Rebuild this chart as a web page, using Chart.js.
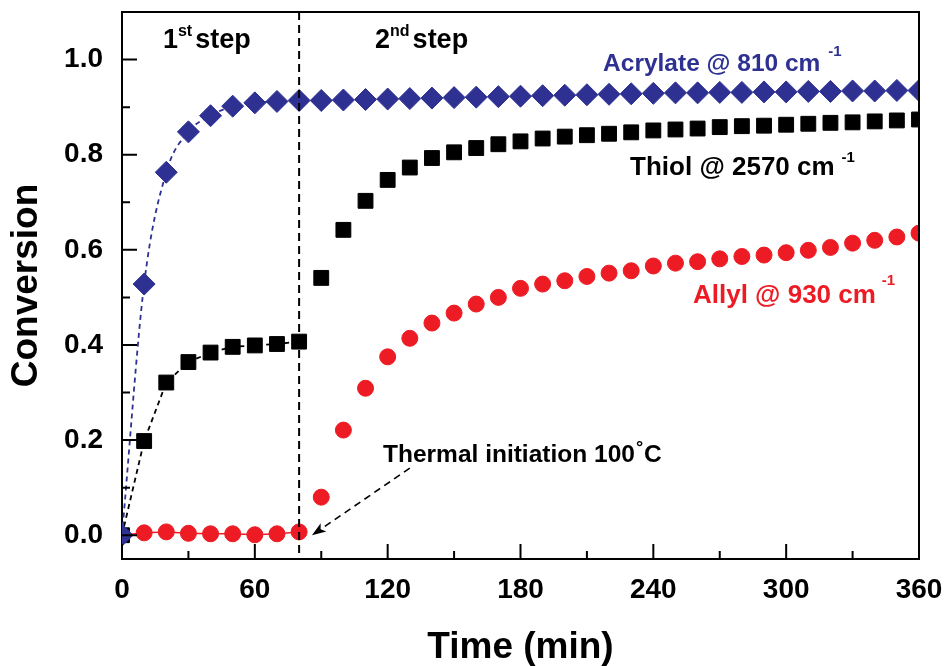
<!DOCTYPE html>
<html>
<head>
<meta charset="utf-8">
<title>Conversion vs time</title>
<script src="https://cdn.jsdelivr.net/npm/chart.js@4.4.1/dist/chart.umd.min.js"></script>
<style>
  html, body { margin: 0; padding: 0; background: #fff; }
  #wrap { width: 947px; height: 666px; }
</style>
</head>
<body>
<div id="wrap"><canvas id="chart" width="947" height="666"></canvas></div>
<script>
// --- Data (conversion vs time, 10 min steps) ---
const timeMin = [0, 10, 20, 30, 40, 50, 60, 70, 80, 90, 100, 110, 120, 130, 140, 150, 160, 170, 180,
                 190, 200, 210, 220, 230, 240, 250, 260, 270, 280, 290, 300, 310, 320, 330, 340, 350, 360];
const acrylate = [0, 0.528, 0.763, 0.848, 0.882, 0.902, 0.909, 0.912, 0.914, 0.914, 0.915, 0.916, 0.917,
                  0.918, 0.919, 0.920, 0.921, 0.922, 0.923, 0.924, 0.925, 0.926, 0.927, 0.928, 0.929,
                  0.930, 0.930, 0.931, 0.931, 0.932, 0.932, 0.933, 0.933, 0.934, 0.934, 0.935, 0.935];
const thiol = [0, 0.198, 0.321, 0.364, 0.384, 0.396, 0.399, 0.402, 0.407, 0.541, 0.642, 0.703, 0.747,
               0.773, 0.793, 0.805, 0.814, 0.822, 0.828, 0.834, 0.838, 0.841, 0.844, 0.847, 0.851,
               0.853, 0.855, 0.858, 0.860, 0.861, 0.863, 0.865, 0.867, 0.868, 0.870, 0.872, 0.874];
const allyl = [0, 0.005, 0.007, 0.004, 0.003, 0.003, 0.001, 0.003, 0.007, 0.080, 0.221, 0.309, 0.375,
               0.414, 0.446, 0.467, 0.486, 0.500, 0.519, 0.528, 0.535, 0.544, 0.551, 0.556, 0.566,
               0.572, 0.575, 0.581, 0.586, 0.589, 0.594, 0.599, 0.605, 0.614, 0.620, 0.627, 0.635];
const stepTime = 80;                       // end of 1st step, thermal initiation
const xTicks = [0, 60, 120, 180, 240, 300, 360];
const yTicks = [0, 0.2, 0.4, 0.6, 0.8, 1.0];

const BLUE = '#2E3192', RED = '#ED1C24', BLACK = '#000000';
const FONT = '"Liberation Sans", Arial, Helvetica, sans-serif';
Chart.defaults.font.family = FONT;

const pts = (ys, n) => timeMin.slice(0, n || timeMin.length).map((t, i) => ({ x: t, y: ys[i] }));
const nStep1 = timeMin.filter(t => t <= stepTime).length;

// text labels placed in data units: [x, y, color, parts]
const notes = [
  { x: 18.5, y: 1.025, color: BLACK, parts: [['1', 27], ['st', 16, 0, -12], ['step', 27, 3]] },
  { x: 114.3, y: 1.025, color: BLACK, parts: [['2', 27], ['nd', 16, 0, -12], ['step', 27, 3]] },
  { x: 217.3, y: 0.977, color: BLUE, parts: [['Acrylate @ 810 cm', 24.5], ['-1', 15, 8, -15]] },
  { x: 229.5, y: 0.758, color: BLACK, parts: [['Thiol @ 2570 cm', 26], ['-1', 15, 7, -13]] },
  { x: 257.9, y: 0.488, color: RED, parts: [['Allyl @ 930 cm', 26], ['-1', 15, 6, -18]] },
  { x: 117.9, y: 0.154, color: BLACK, parts: [['Thermal initiation 100', 24.5], ['\u00B0', 18, 1, -9], ['C', 24.5, 1]] }
];
const arrow = { from: [130, 0.141], to: [85.8, 0.0] };

function drawParts(ctx, x0, y0, parts, color) {
  let cx = x0;
  ctx.fillStyle = color;
  ctx.textBaseline = 'alphabetic';
  ctx.textAlign = 'left';
  parts.forEach(([text, size, dx, dy]) => {
    ctx.font = `bold ${size}px ${FONT}`;
    cx += dx || 0;
    ctx.fillText(text, cx, y0 + (dy || 0));
    cx += ctx.measureText(text).width;
  });
}

const decor = {
  id: 'decor',
  afterDatasetsDraw(chart) {
    const { ctx, chartArea: a, scales: { x, y } } = chart;
    ctx.save();
    ctx.strokeStyle = BLACK;
    ctx.lineWidth = 2;
    // frame top + right
    ctx.beginPath();
    ctx.moveTo(a.left, a.top); ctx.lineTo(a.right, a.top); ctx.lineTo(a.right, a.bottom);
    ctx.stroke();
    // inward ticks, major + minor
    ctx.beginPath();
    xTicks.forEach((v, i) => {
      const px = x.getPixelForValue(v);
      ctx.moveTo(px, a.bottom); ctx.lineTo(px, a.bottom - 15);
      if (i < xTicks.length - 1) {
        const mx = x.getPixelForValue((v + xTicks[i + 1]) / 2);
        ctx.moveTo(mx, a.bottom); ctx.lineTo(mx, a.bottom - 8);
      }
    });
    yTicks.forEach((v, i) => {
      const py = y.getPixelForValue(v);
      ctx.moveTo(a.left, py); ctx.lineTo(a.left + 15, py);
      if (i < yTicks.length - 1) {
        const my = y.getPixelForValue((v + yTicks[i + 1]) / 2);
        ctx.moveTo(a.left, my); ctx.lineTo(a.left + 8, my);
      }
    });
    ctx.stroke();

    // step divider
    const sx = x.getPixelForValue(stepTime);
    ctx.setLineDash([8, 5]);
    ctx.beginPath();
    ctx.moveTo(sx, a.top); ctx.lineTo(sx, a.bottom);
    ctx.stroke();

    // arrow to thermal initiation point
    const x1 = x.getPixelForValue(arrow.from[0]), y1 = y.getPixelForValue(arrow.from[1]);
    const x2 = x.getPixelForValue(arrow.to[0]), y2 = y.getPixelForValue(arrow.to[1]);
    const ang = Math.atan2(y2 - y1, x2 - x1);
    const hl = 14, hw = 5;
    ctx.lineWidth = 1.6;
    ctx.setLineDash([7, 5]);
    ctx.beginPath();
    ctx.moveTo(x1, y1);
    ctx.lineTo(x2 - hl * Math.cos(ang), y2 - hl * Math.sin(ang));
    ctx.stroke();
    ctx.setLineDash([]);
    ctx.fillStyle = BLACK;
    ctx.beginPath();
    ctx.moveTo(x2, y2);
    ctx.lineTo(x2 - hl * Math.cos(ang) + hw * Math.sin(ang), y2 - hl * Math.sin(ang) - hw * Math.cos(ang));
    ctx.lineTo(x2 - hl * 0.75 * Math.cos(ang), y2 - hl * 0.75 * Math.sin(ang));
    ctx.lineTo(x2 - hl * Math.cos(ang) - hw * Math.sin(ang), y2 - hl * Math.sin(ang) + hw * Math.cos(ang));
    ctx.closePath();
    ctx.fill();

    // labels
    notes.forEach(n => drawParts(ctx, x.getPixelForValue(n.x), y.getPixelForValue(n.y), n.parts, n.color));
    ctx.restore();
  }
};

new Chart(document.getElementById('chart'), {
  type: 'scatter',
  data: {
    datasets: [
      { label: 'Acrylate', data: pts(acrylate), showLine: false, pointStyle: 'rectRot', pointRadius: 11,
        pointBackgroundColor: BLUE, pointBorderColor: BLUE, pointBorderWidth: 1, order: 0 },
      { label: 'Thiol', data: pts(thiol), showLine: false, pointStyle: 'rect', pointRadius: 10.5,
        pointBackgroundColor: BLACK, pointBorderColor: BLACK, pointBorderWidth: 1, order: 1 },
      { label: 'Allyl', data: pts(allyl), showLine: false, pointStyle: 'circle', pointRadius: 8,
        pointBackgroundColor: RED, pointBorderColor: RED, pointBorderWidth: 1, order: 2 },
      // 1st step guide lines
      { label: 'Acrylate fit', data: pts(acrylate, nStep1), showLine: true, pointRadius: 0,
        borderColor: BLUE, borderWidth: 1.8, borderDash: [5, 4], cubicInterpolationMode: 'monotone', order: 3 },
      { label: 'Thiol line', data: pts(thiol, nStep1), showLine: true, pointRadius: 0,
        borderColor: BLACK, borderWidth: 1.8, borderDash: [5, 4], order: 4 },
      { label: 'Allyl line', data: pts(allyl, nStep1), showLine: true, pointRadius: 0,
        borderColor: RED, borderWidth: 1.5, order: 5 }
    ]
  },
  options: {
    responsive: false,
    animation: false,
    events: [],
    layout: { padding: { top: 12, right: 28, left: 0, bottom: 0 } },
    plugins: { legend: { display: false }, tooltip: { enabled: false } },
    scales: {
      x: {
        type: 'linear', min: 0, max: 360,
        afterBuildTicks: s => { s.ticks = xTicks.map(v => ({ value: v })); },
        afterFit: s => { s.height = 107; s.paddingLeft = 0; s.paddingRight = 0; },
        grid: { display: false, drawTicks: false },
        border: { display: true, color: BLACK, width: 2 },
        ticks: { color: BLACK, padding: 14, maxRotation: 0, font: { size: 28, weight: 'bold' } },
        title: { display: true, text: 'Time (min)', color: BLACK, padding: { top: 0, bottom: 0 },
                 font: { size: 37, weight: 'bold', lineHeight: 1 } }
      },
      y: {
        type: 'linear', min: -0.05, max: 1.1,
        afterBuildTicks: s => { s.ticks = yTicks.map(v => ({ value: v })); },
        afterFit: s => { s.width = 122; s.paddingTop = 0; s.paddingBottom = 0; },
        grid: { display: false, drawTicks: false },
        border: { display: true, color: BLACK, width: 2 },
        ticks: { color: BLACK, padding: 19, font: { size: 28, weight: 'bold' }, callback: v => v.toFixed(1) },
        title: { display: true, text: 'Conversion', color: BLACK, padding: { top: 5, bottom: 0 },
                 font: { size: 37, weight: 'bold', lineHeight: 1.2 } }
      }
    }
  },
  plugins: [decor]
});
</script>
</body>
</html>
